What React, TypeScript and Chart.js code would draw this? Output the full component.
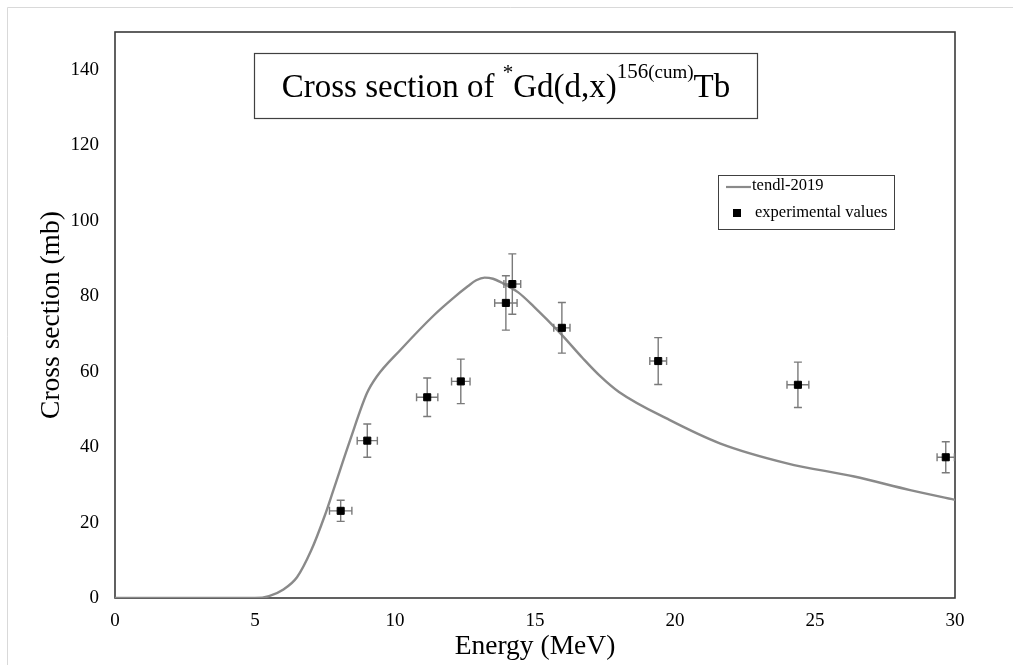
import React, { useEffect, useRef } from "react";
import { Chart, registerables } from "chart.js";

Chart.register(...registerables);

// TENDL-2019 curve
const curveX = [0, 1, 2, 3, 4, 5, 5.5, 6, 6.5, 7, 7.5, 7.8, 8.4, 9.0, 9.35, 10.2, 11.4, 12.1, 12.6, 12.9, 13.2, 13.5, 13.8, 14.4, 14.95, 15.9, 16.7, 17.3, 18, 19.8, 21.6, 24, 26.4, 28.4, 30];
const curveY = [0, 0, 0, 0, 0, 0, 0.5, 2.2, 5.5, 12.5, 22, 28.6, 41.9, 54.3, 58.7, 65.8, 75, 79.6, 82.6, 84.2, 84.9, 84.6, 83.6, 81.0, 77.3, 70.2, 63.6, 59.0, 54.6, 47.2, 41, 35.7, 32.2, 28.6, 26];

// experimental values
const expX = [8.06, 9.01, 11.15, 12.35, 13.96, 14.19, 15.96, 19.4, 24.39, 29.67];
const expY = [23.1, 41.7, 53.2, 57.4, 78.2, 83.2, 71.6, 62.8, 56.5, 37.3];
const expXErr = [0.4, 0.36, 0.38, 0.33, 0.4, 0.3, 0.29, 0.3, 0.39, 0.31];
const expYErr = [2.8, 4.4, 5.1, 5.9, 7.2, 8.0, 6.7, 6.2, 6.0, 4.1];

const xTickStep = 5;
const yTickStep = 20;
const xMax = 30;
const yMax = 150;

const SERIF = "'Liberation Serif', 'Times New Roman', serif";

export default function App() {
  const ref = useRef<HTMLCanvasElement | null>(null);

  useEffect(() => {
    const canvas = ref.current;
    if (!canvas) return;

    const decor = {
      id: "decor",
      beforeDraw(chart: any) {
        const ctx = chart.ctx;
        ctx.save();
        ctx.fillStyle = "#ffffff";
        ctx.fillRect(0, 0, chart.width, chart.height);
        ctx.strokeStyle = "#d9d9d9";
        ctx.lineWidth = 1;
        ctx.beginPath();
        ctx.moveTo(7.5, chart.height);
        ctx.lineTo(7.5, 7.5);
        ctx.lineTo(chart.width, 7.5);
        ctx.stroke();
        ctx.restore();
      },
      beforeDatasetsDraw(chart: any) {
        const ctx = chart.ctx;
        const a = chart.chartArea;
        ctx.save();
        ctx.strokeStyle = "#3a3a3a";
        ctx.lineWidth = 1.6;
        ctx.strokeRect(a.left, a.top, a.right - a.left, a.bottom - a.top);
        ctx.restore();
      },
      beforeDatasetDraw(chart: any, args: any) {
        if (args.index !== 1) return;
        const ctx = chart.ctx;
        const xs = chart.scales.x;
        const ys = chart.scales.y;
        ctx.save();
        ctx.strokeStyle = "#7a7a7a";
        ctx.lineWidth = 1.4;
        const cap = 4;
        for (let i = 0; i < expX.length; i++) {
          const cx = xs.getPixelForValue(expX[i]);
          const cy = ys.getPixelForValue(expY[i]);
          const yt = ys.getPixelForValue(expY[i] + expYErr[i]);
          const yb = ys.getPixelForValue(expY[i] - expYErr[i]);
          const xl = xs.getPixelForValue(expX[i] - expXErr[i]);
          const xr = xs.getPixelForValue(expX[i] + expXErr[i]);
          ctx.beginPath();
          ctx.moveTo(cx, yt);
          ctx.lineTo(cx, yb);
          ctx.moveTo(cx - cap, yt);
          ctx.lineTo(cx + cap, yt);
          ctx.moveTo(cx - cap, yb);
          ctx.lineTo(cx + cap, yb);
          ctx.moveTo(xl, cy);
          ctx.lineTo(xr, cy);
          ctx.moveTo(xl, cy - cap);
          ctx.lineTo(xl, cy + cap);
          ctx.moveTo(xr, cy - cap);
          ctx.lineTo(xr, cy + cap);
          ctx.stroke();
        }
        ctx.restore();
      },
      afterDraw(chart: any) {
        const ctx = chart.ctx;
        const a = chart.chartArea;
        ctx.save();
        // axis titles
        ctx.fillStyle = "#000";
        ctx.font = `27.5px ${SERIF}`;
        ctx.textAlign = "center";
        ctx.textBaseline = "middle";
        ctx.fillText("Energy (MeV)", (a.left + a.right) / 2, 647);
        ctx.save();
        ctx.translate(52, (a.top + a.bottom) / 2);
        ctx.rotate(-Math.PI / 2);
        ctx.fillText("Cross section (mb)", 0, 0);
        ctx.restore();

        // title box
        const bx = 254.5, by = 53.5, bw = 503, bh = 65;
        ctx.fillStyle = "#fff";
        ctx.fillRect(bx, by, bw, bh);
        ctx.strokeStyle = "#404040";
        ctx.lineWidth = 1.2;
        ctx.strokeRect(bx, by, bw, bh);
        const parts: [string, number, number][] = [
          ["Cross section of ", 33, 0],
          ["*", 21, -18],
          ["Gd(d,x)", 33, 0],
          ["156", 21, -19],
          ["(cum)", 19, -19],
          ["Tb", 33, 0],
        ];
        ctx.textAlign = "left";
        ctx.textBaseline = "alphabetic";
        let total = 0;
        for (const [t, s] of parts) {
          ctx.font = `${s}px ${SERIF}`;
          total += ctx.measureText(t).width;
        }
        let x = bx + bw / 2 - total / 2;
        const base = 97;
        ctx.fillStyle = "#000";
        for (const [t, s, dy] of parts) {
          ctx.font = `${s}px ${SERIF}`;
          ctx.fillText(t, x, base + dy);
          x += ctx.measureText(t).width;
        }

        // legend
        const lx = 718.5, ly = 175.5, lw = 176, lh = 54;
        ctx.fillStyle = "#fff";
        ctx.fillRect(lx, ly, lw, lh);
        ctx.strokeStyle = "#404040";
        ctx.lineWidth = 1;
        ctx.strokeRect(lx, ly, lw, lh);
        ctx.strokeStyle = "#8a8a8a";
        ctx.lineWidth = 2.2;
        ctx.beginPath();
        ctx.moveTo(726, 187);
        ctx.lineTo(751, 187);
        ctx.stroke();
        ctx.fillStyle = "#000";
        ctx.fillRect(733, 209, 8, 8);
        ctx.font = `16.5px ${SERIF}`;
        ctx.textBaseline = "middle";
        ctx.fillText("tendl-2019", 752, 186);
        ctx.fillText("experimental values", 755, 213);
        ctx.restore();
      },
    };

    const chart = new Chart(canvas, {
      type: "scatter",
      data: {
        datasets: [
          {
            type: "line",
            label: "tendl-2019",
            data: curveX.map((x, i) => ({ x, y: curveY[i] })),
            borderColor: "#8a8a8a",
            borderWidth: 2.4,
            pointRadius: 0,
            fill: false,
            cubicInterpolationMode: "monotone",
            order: 2,
          } as any,
          {
            type: "scatter",
            label: "experimental values",
            data: expX.map((x, i) => ({ x, y: expY[i] })),
            pointStyle: "rect",
            pointRadius: 5,
            backgroundColor: "#000",
            borderColor: "#000",
            borderWidth: 1,
            order: 1,
          } as any,
        ],
      },
      options: {
        animation: false,
        responsive: false,
        events: [],
        layout: { padding: { left: 0, top: 32, right: 58, bottom: 0 } },
        plugins: { legend: { display: false }, tooltip: { enabled: false } },
        scales: {
          x: {
            type: "linear",
            min: 0,
            max: xMax,
            grid: { display: false, drawTicks: false },
            border: { display: false },
            afterFit: (s: any) => {
              s.height = 67;
            },
            ticks: {
              stepSize: xTickStep,
              color: "#000",
              padding: 12,
              maxRotation: 0,
              font: { family: SERIF, size: 19 },
            },
          },
          y: {
            type: "linear",
            min: 0,
            max: yMax,
            grid: { display: false, drawTicks: false },
            border: { display: false },
            afterFit: (s: any) => {
              s.width = 115;
            },
            ticks: {
              stepSize: yTickStep,
              color: "#000",
              padding: 16,
              font: { family: SERIF, size: 19 },
              callback: (v: any) => (v === yMax ? "" : String(v)),
            },
          },
        },
      },
      plugins: [decor],
    });
    return () => chart.destroy();
  }, []);

  return (
    <div style={{ position: "absolute", left: 0, top: 0, width: 1013, height: 665, background: "#fff" }}>
      <canvas ref={ref} width={1013} height={665} style={{ display: "block" }} />
    </div>
  );
}
